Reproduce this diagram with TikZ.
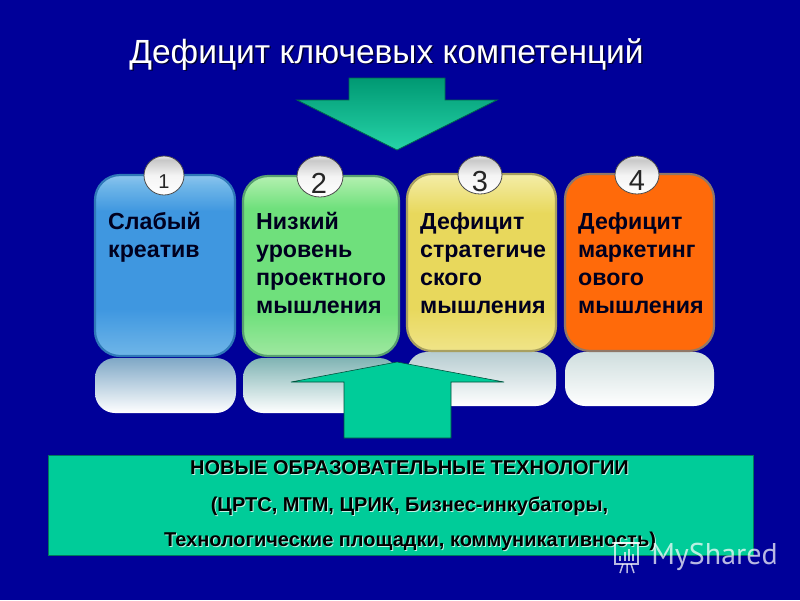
\documentclass[tikz,border=0pt]{standalone}
\usepackage{fontspec}
\setmainfont{Liberation Sans}
\newfontfamily\wmfont{PT Sans}
\usetikzlibrary{shapes.geometric}
\definecolor{bgblue}{HTML}{000099}
\definecolor{teal}{HTML}{00CC99}
\definecolor{bA}{HTML}{6FB6E8}\definecolor{bB}{HTML}{3F97E0}\definecolor{bC}{HTML}{8CC4EE}
\definecolor{gA}{HTML}{9FE8A0}\definecolor{gB}{HTML}{6FE07C}\definecolor{gC}{HTML}{B4F0B0}
\definecolor{yA}{HTML}{F0E488}\definecolor{yB}{HTML}{E8D85C}\definecolor{yC}{HTML}{F4EDA8}
\definecolor{wA}{HTML}{FFFFFF}\definecolor{wB}{HTML}{F4F4F4}\definecolor{wC}{HTML}{C8C8C8}\definecolor{wD}{HTML}{E8E8E8}
\definecolor{rA}{HTML}{7FA8C6}\definecolor{rB}{HTML}{80B4B4}\definecolor{rC}{HTML}{B6CCD0}\definecolor{rD}{HTML}{CFDEDE}
\definecolor{eA}{HTML}{2F78B8}\definecolor{eB}{HTML}{58A070}\definecolor{eC}{HTML}{A8A060}\definecolor{eD}{HTML}{907868}
\definecolor{orangeface}{HTML}{FF6A0A}
\pgfdeclareverticalshading{blueface}{100bp}{color(0bp)=(bA);
 color(25bp)=(bA); color(38bp)=(bB); color(65bp)=(bB); color(72bp)=(bA); color(75bp)=(bC); color(100bp)=(bC)}
\pgfdeclareverticalshading{greenface}{100bp}{color(0bp)=(gA);
 color(25bp)=(gA); color(37bp)=(gB); color(66bp)=(gB); color(75bp)=(gC); color(100bp)=(gC)}
\pgfdeclareverticalshading{yellowface}{100bp}{color(0bp)=(yA);
 color(25bp)=(yA); color(37bp)=(yB); color(64bp)=(yB); color(75bp)=(yC); color(100bp)=(yC)}
\pgfdeclareverticalshading{ballface}{100bp}{color(0bp)=(wA);
 color(25bp)=(wA); color(50bp)=(wB); color(70bp)=(wC); color(75bp)=(wD); color(100bp)=(wD)}
\tikzset{
 x=1pt,y=-1pt,
 card/.style={rounded corners=25, line width=2.2},
 glass/.style={rounded corners=20, top color=#1, bottom color=white, draw=none},
 ball/.style={ellipse, inner sep=0, minimum width=#1, shading=ballface, draw=black!70!white, line width=.8},
 cardtext/.style={anchor=north west, align=left, inner sep=0, text=black!88!blue,
   font=\bfseries\fontsize{23.2}{28}\selectfont},
 foot/.style={inner sep=0, font=\bfseries\fontsize{20}{22}\selectfont},
 titletext/.style={inner sep=0, font=\fontsize{33.5}{38}\selectfont},
 numtext/.style={inner sep=0, text=black!85, font=\fontsize{#1}{#1}\selectfont},
 panelarrow/.style={fill=teal, draw=black!60!teal, line width=.6},
}
\begin{document}
\begin{tikzpicture}
\useasboundingbox[fill=bgblue] (0,0) rectangle (800,600);
% title
\node[titletext, text=black!80!blue] at (388,56) {Дефицит ключевых компетенций};
\node[titletext, text=white] (title) at (386.5,54.5) {Дефицит ключевых компетенций};
% down arrow
\path[draw=black!50!teal, line width=.8, top color=teal!75!black, bottom color=teal!85!white]
  (349,78) -- (445,78) -- (445,100) -- (497,100) -- (397,150) -- (297,100) -- (349,100) -- cycle;
% reflections
\path[glass=rA] (95,358) rectangle (236,413);
\path[glass=rB] (243,358) rectangle (399,413);
\path[glass=rC] (407,352) rectangle (556,406);
\path[glass=rD] (565,352) rectangle (714,406);
% cards
\path[card, shading=blueface, draw=eA] (95,175) rectangle (235,356);
\path[card, shading=greenface, draw=eB] (243,176) rectangle (399,356);
\path[card, shading=yellowface, draw=eC] (407,174) rectangle (556,351);
\path[card, fill=orangeface, draw=eD] (565,174) rectangle (714,351);
% number balls
\node[ball=40, minimum height=39] (n1) at (164,175.5) {};
\node[ball=46, minimum height=41] (n2) at (320,176.5) {};
\node[ball=44, minimum height=38] (n3) at (480,175) {};
\node[ball=44, minimum height=38] (n4) at (637,175) {};
\node[numtext=20] at (164,181.5) {1};
\node[numtext=29] at (319,183) {2};
\node[numtext=29] at (480,182) {3};
\node[numtext=29] at (637,181) {4};
% card text
\node[cardtext] (t1) at (108,212.5) {Слабый\\креатив};
\node[cardtext] (t2) at (256,212.5) {Низкий\\уровень\\проектного\\мышления};
\node[cardtext] (t3) at (420,212.5) {Дефицит\\стратегиче\\ского\\мышления};
\node[cardtext] (t4) at (578,212.5) {Дефицит\\маркетинг\\ового\\мышления};
% up arrow
\path[panelarrow] (397,362) -- (504,382) -- (451,382) -- (451,438) -- (344,438) -- (344,382) -- (291,382) -- cycle;
% bottom panel
\path[fill=teal, draw=black!40!teal, line width=.6] (48,455) rectangle (753,555);
\foreach \dd/\cc in {1/white!75!teal, 0/black}{
 \node[foot, text=\cc] at (409.5+\dd,468+\dd) {НОВЫЕ ОБРАЗОВАТЕЛЬНЫЕ ТЕХНОЛОГИИ};
 \node[foot, text=\cc] at (409.5+\dd,506+\dd) {(ЦРТС, МТМ, ЦРИК, Бизнес-инкубаторы,};
 \node[foot, text=\cc] at (410+\dd,541+\dd) {Технологические площадки, коммуникативность)};
}
% watermark
\begin{scope}[draw=white, opacity=.72, line width=1.5]
 \draw (612,543) -- (640,543);
 \draw (615,543) rectangle (638,564);
 \draw (620,561) -- (620,556) (625,561) -- (625,552) (629,561) -- (629,549) (633,561) -- (633,554);
 \draw (620,573) -- (623,564) (627,573) -- (627,564) (634,573) -- (631,564);
 \node[text=white, font=\wmfont\fontsize{30}{32}\selectfont, anchor=west, inner sep=0] (wm) at (650.5,557) {MyShared};
\end{scope}
\end{tikzpicture}
\end{document}
